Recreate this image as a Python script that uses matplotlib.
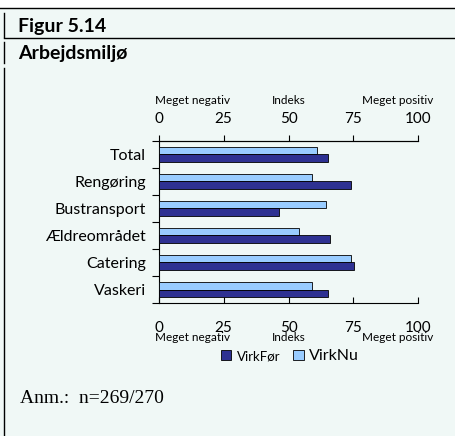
import numpy as np
import matplotlib
matplotlib.use('Agg')
import matplotlib.pyplot as plt
import matplotlib.transforms as mtransforms
from matplotlib.lines import Line2D
from matplotlib.ticker import FixedLocator, NullFormatter

plt.rcParams['font.family'] = ['Lato', 'DejaVu Sans']

# data
categories = ['Total', 'Rengøring', 'Bustransport', 'Ældreområdet', 'Catering', 'Vaskeri']
virk_foer = [65.1, 74.2, 46.2, 66.0, 75.1, 65.1]
virk_nu = [61.1, 59.2, 64.3, 54.0, 74.2, 59.2]
x_ticks = [0, 25, 50, 75, 100]
scale_labels = ['Meget negativ', 'Indeks', 'Meget positiv']
scale_pos = [13, 50, 92]

BG = '#f0f8f6'
DARK = '#2e3192'
LIGHT = '#99ccff'

W, H = 456, 436
fig = plt.figure(figsize=(W / 100, H / 100), dpi=100)
fig.patch.set_facecolor(BG)


def fx(px):
    return px / W


def fy(py):
    return 1 - py / H


# hvid stribe foroven + rammelinjer
fig.patches.append(plt.Rectangle((0, fy(8)), 1, 1 - fy(8), transform=fig.transFigure,
                                 facecolor='white', edgecolor='none', zorder=0))
fig.add_artist(Line2D([0, 1], [fy(8), fy(8)], color='black', lw=1.0))
fig.add_artist(Line2D([fx(4), 1], [fy(38), fy(38)], color='black', lw=1.0))
for y0, y1 in [(13, 37), (42, 63), (68, 436)]:
    fig.add_artist(Line2D([fx(4), fx(4)], [fy(y0), fy(y1)], color='black', lw=1.0))

fig.text(fx(18), fy(32), 'Figur 5.14', fontsize=14, fontweight='bold', va='baseline')
fig.text(fx(18), fy(59), 'Arbejdsmiljø', fontsize=14, fontweight='bold', va='baseline')

# hovedakse
left, right = 158.7, 418.3
top, bottom = 141, 303
ax = fig.add_axes([fx(left), fy(bottom), fx(right - left), fy(top) - fy(bottom)])
ax.set_facecolor('none')

y = np.arange(len(categories))
h = 0.28
ax.barh(y - h / 2, virk_nu, height=h, color=LIGHT, edgecolor='black', linewidth=0.6,
        label='VirkNu', zorder=3)
ax.barh(y + h / 2, virk_foer, height=h, color=DARK, edgecolor='black', linewidth=0.6,
        label='VirkFør', zorder=3)

ax.set_xlim(0, 100)
ax.set_ylim(len(categories) - 0.5, -0.5)

ax.set_yticks(y)
ax.set_yticklabels(categories, fontsize=11.5)
ax.yaxis.set_minor_locator(FixedLocator(np.arange(-0.5, len(categories), 1.0)))
ax.yaxis.set_minor_formatter(NullFormatter())
ax.tick_params(axis='y', which='major', length=0, pad=9)
ax.tick_params(axis='y', which='minor', length=5, direction='out', width=0.8)

ax.set_xticks(x_ticks)
ax.tick_params(axis='x', direction='in', length=4, width=0.8, labelsize=11, pad=13)

ax.spines['right'].set_visible(False)
for side in ['left', 'top', 'bottom']:
    ax.spines[side].set_linewidth(0.8)

sec = ax.secondary_xaxis('top')
sec.set_xticks(x_ticks)
sec.tick_params(direction='out', length=4, width=0.8, labelsize=11, pad=7)
sec.spines['top'].set_linewidth(0.8)

# skalatekster over og under
blend = mtransforms.blended_transform_factory(ax.transData, fig.transFigure)
for lab, pos in zip(scale_labels, scale_pos):
    ax.text(pos, fy(100), lab, transform=blend, ha='center', va='center', fontsize=8.5)
    ax.text(pos, fy(337.5), lab, transform=blend, ha='center', va='center', fontsize=8.5)

# legend
handles, labels = ax.get_legend_handles_labels()
leg = fig.legend(handles[::-1], labels[::-1], loc='center', bbox_to_anchor=(fx(290), fy(356)),
                 ncol=2, frameon=False, fontsize=9.5, handlelength=0.8, handleheight=0.8,
                 handletextpad=0.4, columnspacing=1.0)
leg.get_texts()[1].set_fontsize(11.5)

fig.text(fx(20), fy(398), 'Anm.:  n=269/270', fontsize=14, va='center',
         family=['Liberation Serif', 'DejaVu Serif'])

fig.savefig('out.png', dpi=100, facecolor=fig.get_facecolor())
